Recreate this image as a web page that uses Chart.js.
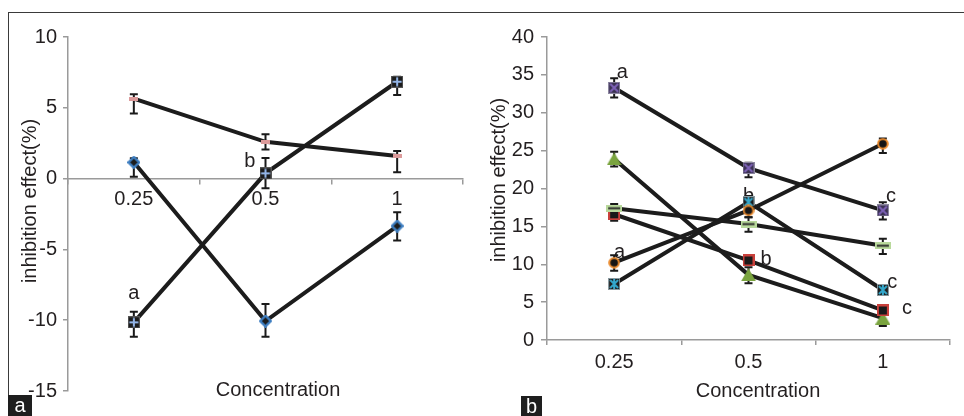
<!DOCTYPE html>
<html>
<head>
<meta charset="utf-8">
<script src="https://cdn.jsdelivr.net/npm/chart.js@4.4.1/dist/chart.umd.min.js"></script>
<style>
  html, body { margin: 0; padding: 0; background: #fff; }
  #wrap { position: relative; width: 964px; height: 416px; overflow: hidden; }
  #frame { position: absolute; left: 8px; top: 12px; width: 960px; height: 410px;
           border-top: 1px solid #3a3a3a; border-left: 1px solid #3a3a3a; }
  canvas { position: absolute; top: 0; }
  #cA { left: 0; }
  #cB { left: 480px; }
  .tag { position: absolute; background: #1e1e1e; color: #fff; font: 20px "Liberation Sans", Arial, sans-serif;
         text-align: center; line-height: 21px; }
</style>
</head>
<body>
<div id="wrap">
  <div id="frame"></div>
  <canvas id="cA" width="480" height="416"></canvas>
  <canvas id="cB" width="484" height="416"></canvas>
  <div class="tag" style="left:8px;top:395px;width:24px;height:21px;">a</div>
  <div class="tag" style="left:521px;top:396px;width:21px;height:20px;">b</div>
</div>
<script>
// categories
var concentrations = ['0.25', '0.5', '1'];

// panel a values and error bar ends
var aPink = [5.65, 2.6, 1.6];
var aPinkLow = [4.6, 2.05, 0.45];
var aPinkHigh = [5.95, 3.13, 1.95];
var aSquare = [-10.15, 0.37, 6.84];
var aSquareLow = [-11.17, -0.69, 5.9];
var aSquareHigh = [-9.4, 1.45, 7.2];
var aDiamond = [1.15, -10.06, -3.35];
var aDiamondLow = [0.13, -11.17, -4.38];
var aDiamondHigh = [1.43, -8.86, -2.38];
var aLetters = [['a', 0, -8.1], ['b', 0.88, 1.2]];

// panel b values and error bar ends
var bPurple = [33.3, 22.7, 17.1];
var bPurpleLow = [32.0, 21.5, 15.9];
var bPurpleHigh = [34.55, 23.4, 18.2];
var bOrange = [10.2, 17.1, 25.9];
var bOrangeLow = [9.15, 16.2, 24.7];
var bOrangeHigh = [11.2, 18.0, 26.6];
var bCyan = [7.4, 18.2, 6.6];
var bCyanLow = [6.9, 17.4, 6.1];
var bCyanHigh = [7.9, 19.0, 7.1];
var bGreenDash = [17.4, 15.3, 12.45];
var bGreenDashLow = [16.9, 14.3, 11.35];
var bGreenDashHigh = [17.95, 16.2, 13.35];
var bRed = [16.6, 10.5, 3.9];
var bRedLow = [15.75, 9.9, 3.4];
var bRedHigh = [17.4, 11.1, 4.4];
var bTriangle = [23.9, 8.6, 2.9];
var bTriangleLow = [22.9, 7.5, 1.85];
var bTriangleHigh = [24.86, 9.6, 3.9];
var bLetters = [['a', 0.06, 35.3], ['a', 0.04, 11.5], ['b', 1.0, 18.9], ['b', 1.13, 10.6],
                ['c', 2.06, 18.9], ['c', 2.07, 7.6], ['c', 2.18, 4.2]];

var FONT = '"Liberation Sans", Arial, sans-serif';
var TEXT = '#231f20';
var AXIS = '#9a9a9a';
Chart.defaults.font.family = FONT;
Chart.defaults.color = TEXT;

// small canvases used as point markers
function marker(w, h, draw) {
    var c = document.createElement('canvas');
    c.width = w; c.height = h;
    draw(c.getContext('2d'), w, h);
    return c;
}
var mkPink = marker(9, 4, function(g, w, h) { g.fillStyle = '#dc9a9a'; g.fillRect(0, 0, w, h); });
var mkSquarePlus = marker(12, 12, function(g, w, h) {
    g.fillStyle = '#1c1c1c'; g.fillRect(0, 0, w, h);
    g.strokeStyle = '#555'; g.lineWidth = 1; g.strokeRect(0.5, 0.5, w - 1, h - 1);
    g.strokeStyle = '#93b4e6'; g.lineWidth = 2;
    g.beginPath(); g.moveTo(6, 1.5); g.lineTo(6, 10.5); g.moveTo(1.5, 6); g.lineTo(10.5, 6); g.stroke();
});
var mkDiamond = marker(13, 13, function(g) {
    g.beginPath(); g.moveTo(6.5, 1.2); g.lineTo(11.8, 6.5); g.lineTo(6.5, 11.8); g.lineTo(1.2, 6.5); g.closePath();
    g.fillStyle = '#1c1c1c'; g.fill();
    g.strokeStyle = '#3d7dc0'; g.lineWidth = 2.4; g.stroke();
});
var mkPurple = marker(12, 12, function(g, w, h) {
    g.fillStyle = '#3a3152'; g.fillRect(0, 0, w, h);
    g.strokeStyle = '#8c86a0'; g.lineWidth = 1; g.strokeRect(0.5, 0.5, w - 1, h - 1);
    g.strokeStyle = '#7e62b8'; g.lineWidth = 2;
    g.beginPath(); g.moveTo(2, 2); g.lineTo(10, 10); g.moveTo(10, 2); g.lineTo(2, 10); g.stroke();
});
var mkOrange = marker(12, 12, function(g) {
    g.beginPath(); g.arc(6, 6, 4.8, 0, Math.PI * 2);
    g.fillStyle = '#151515'; g.fill();
    g.strokeStyle = '#ea8a2c'; g.lineWidth = 2; g.stroke();
});
var mkCyan = marker(12, 12, function(g, w, h) {
    g.fillStyle = '#1c1c1c'; g.fillRect(0, 0, w, h);
    g.strokeStyle = '#8a9aa0'; g.lineWidth = 1; g.strokeRect(0.5, 0.5, w - 1, h - 1);
    g.strokeStyle = '#34a8cc'; g.lineWidth = 2;
    g.beginPath(); g.moveTo(2, 2); g.lineTo(10, 10); g.moveTo(10, 2); g.lineTo(2, 10);
    g.moveTo(6, 1); g.lineTo(6, 11); g.stroke();
});
var mkGreenDash = marker(16, 7, function(g, w, h) {
    g.fillStyle = '#b9d99c'; g.fillRect(0, 0, w, h);
    g.strokeStyle = '#2a2a2a'; g.lineWidth = 2;
    g.beginPath(); g.moveTo(2, 3.5); g.lineTo(14, 3.5); g.stroke();
});
var mkRed = marker(12, 12, function(g, w, h) {
    g.fillStyle = '#1a1a1a'; g.fillRect(0, 0, w, h);
    g.strokeStyle = '#c9403b'; g.lineWidth = 2; g.strokeRect(1, 1, w - 2, h - 2);
});
var mkTriangle = marker(15, 13, function(g) {
    g.beginPath(); g.moveTo(7.5, 0); g.lineTo(15, 13); g.lineTo(0, 13); g.closePath();
    g.fillStyle = '#7aa43f'; g.fill();
});

function series(values, low, high, style) {
    return {
        data: values, errLow: low, errHigh: high,
        borderColor: '#1c1c1c', borderWidth: 4, tension: 0,
        pointStyle: style, pointRadius: 6, pointHoverRadius: 6
    };
}

// error bars + letters, drawn under the markers
var extrasPlugin = {
    id: 'extras',
    beforeDatasetsDraw: function(chart) {
        var ctx = chart.ctx, y = chart.scales.y, x = chart.scales.x;
        ctx.save();
        ctx.font = '20px ' + FONT;
        ctx.fillStyle = TEXT;
        ctx.textAlign = 'center';
        ctx.textBaseline = 'middle';
        (chart.options.letters || []).forEach(function(l) {
            ctx.fillText(l[0], x.getPixelForValue(l[1]), y.getPixelForValue(l[2]));
        });
        ctx.strokeStyle = '#1a1a1a';
        ctx.lineWidth = 2;
        chart.data.datasets.forEach(function(ds, i) {
            var meta = chart.getDatasetMeta(i);
            meta.data.forEach(function(pt, j) {
                var y1 = y.getPixelForValue(ds.errHigh[j]), y2 = y.getPixelForValue(ds.errLow[j]);
                ctx.beginPath();
                ctx.moveTo(pt.x, y1); ctx.lineTo(pt.x, y2);
                ctx.moveTo(pt.x - 4, y1); ctx.lineTo(pt.x + 4, y1);
                ctx.moveTo(pt.x - 4, y2); ctx.lineTo(pt.x + 4, y2);
                ctx.stroke();
            });
        });
        ctx.restore();
    },
    afterDraw: function(chart) {
        var ctx = chart.ctx, t = chart.options.titles;
        ctx.save();
        ctx.font = '20px ' + FONT;
        ctx.fillStyle = TEXT;
        ctx.textAlign = 'center';
        ctx.textBaseline = 'middle';
        ctx.fillText('Concentration', t.xTitle[0], t.xTitle[1]);
        ctx.translate(t.yTitle[0], t.yTitle[1]);
        ctx.rotate(-Math.PI / 2);
        ctx.fillText('inhibition effect(%)', 0, 0);
        ctx.restore();
    }
};

function gridOpts() {
    return { display: true, drawOnChartArea: false, drawTicks: true, tickLength: 5,
             color: AXIS, lineWidth: 1.5, offset: true };
}

var chartA = new Chart(document.getElementById('cA'), {
    type: 'line',
    data: {
        labels: concentrations,
        datasets: [
            series(aPink, aPinkLow, aPinkHigh, mkPink),
            series(aSquare, aSquareLow, aSquareHigh, mkSquarePlus),
            series(aDiamond, aDiamondLow, aDiamondHigh, mkDiamond)
        ]
    },
    plugins: [extrasPlugin],
    options: {
        responsive: false,
        animation: false,
        events: [],
        letters: aLetters,
        titles: { xTitle: [278, 390], yTitle: [30, 201] },
        layout: { padding: { top: 37, right: 17, bottom: 25, left: 0 } },
        plugins: { legend: { display: false }, tooltip: { enabled: false } },
        scales: {
            x: {
                position: { y: 0 },
                offset: true,
                grid: gridOpts(),
                border: { color: AXIS, width: 1.5 },
                ticks: { font: { size: 20 }, padding: 4, maxRotation: 0 },
                afterFit: function(s) { s.height = 0; }
            },
            y: {
                min: -15, max: 10,
                grid: { display: true, drawOnChartArea: false, drawTicks: true, tickLength: 5, color: AXIS, lineWidth: 1.5 },
                border: { color: AXIS, width: 1.5 },
                ticks: { stepSize: 5, font: { size: 20 }, padding: 6 },
                afterFit: function(s) { s.width = 68; }
            }
        }
    }
});

var chartB = new Chart(document.getElementById('cB'), {
    type: 'line',
    data: {
        labels: concentrations,
        datasets: [
            series(bPurple, bPurpleLow, bPurpleHigh, mkPurple),
            series(bOrange, bOrangeLow, bOrangeHigh, mkOrange),
            series(bCyan, bCyanLow, bCyanHigh, mkCyan),
            series(bGreenDash, bGreenDashLow, bGreenDashHigh, mkGreenDash),
            series(bRed, bRedLow, bRedHigh, mkRed),
            series(bTriangle, bTriangleLow, bTriangleHigh, mkTriangle)
        ]
    },
    plugins: [extrasPlugin],
    options: {
        responsive: false,
        animation: false,
        events: [],
        letters: bLetters,
        titles: { xTitle: [278, 391], yTitle: [19.5, 180] },
        layout: { padding: { top: 37, right: 14, bottom: 0, left: 0 } },
        plugins: { legend: { display: false }, tooltip: { enabled: false } },
        scales: {
            x: {
                offset: true,
                grid: gridOpts(),
                border: { color: AXIS, width: 1.5 },
                ticks: { font: { size: 20 }, padding: 5, maxRotation: 0 },
                afterFit: function(s) { s.height = 76; }
            },
            y: {
                min: 0, max: 40,
                grid: { display: true, drawOnChartArea: false, drawTicks: true, tickLength: 6, color: AXIS, lineWidth: 1.5 },
                border: { color: AXIS, width: 1.5 },
                ticks: { stepSize: 5, font: { size: 20 }, padding: 7 },
                afterFit: function(s) { s.width = 67; }
            }
        }
    }
});
</script>
</body>
</html>
